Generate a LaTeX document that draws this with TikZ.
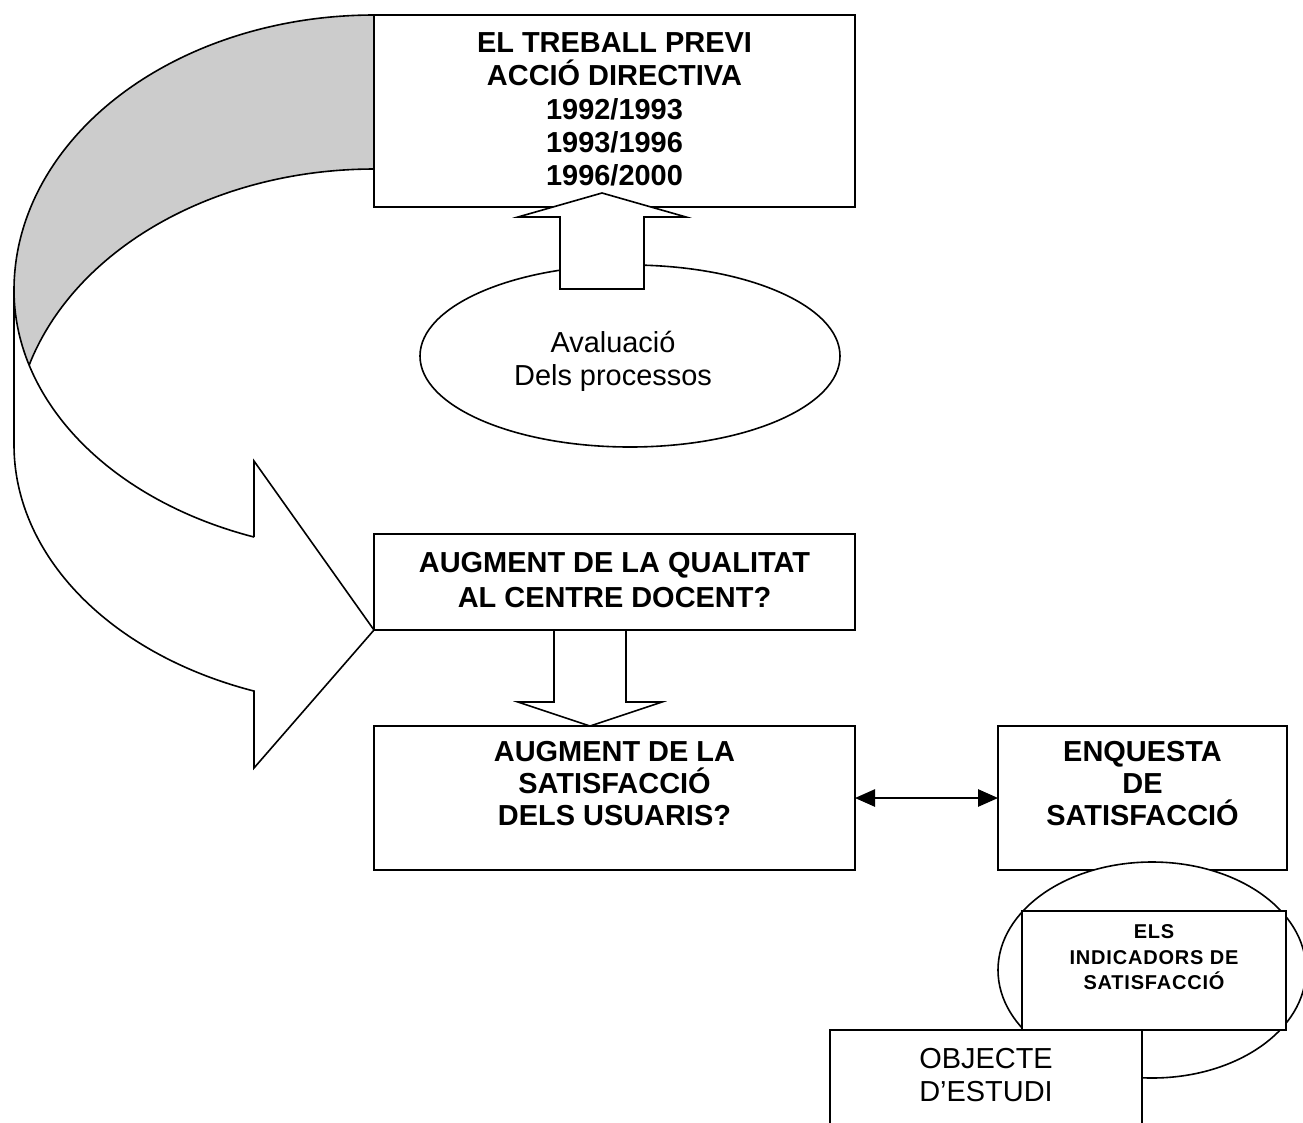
\documentclass[tikz,border=0pt]{standalone}
\usepackage{fontspec}
\setmainfont{Liberation Sans}
\usetikzlibrary{arrows.meta,shapes.geometric}
\begin{document}
\begin{tikzpicture}[x=0.75pt,y=-0.75pt,line width=1.2pt,
  box/.style={draw,fill=white,rectangle,inner sep=0pt,outer sep=0pt},
  oval/.style={draw,fill=white,ellipse,inner sep=0pt,outer sep=0pt},
  btxt/.style={align=center,inner sep=0pt,font=\fontsize{21.7}{#1}\selectfont\bfseries},
  rtxt/.style={align=center,inner sep=0pt,font=\fontsize{21.7}{#1}\selectfont},
  stxt/.style={align=center,inner sep=0pt,font=\fontsize{15}{19.1}\selectfont\bfseries\addfontfeature{LetterSpace=4}},
  blockarrow/.style={draw,fill=white,line join=miter},
  tip/.style={-{Triangle[length=15pt,width=13pt]}},
]
\useasboundingbox (0,0) rectangle (1303,1122);
\clip (0,0) rectangle (1303,1122);

% curved arrow: shaded back band
\fill[black!20]
  plot[domain=90:180,samples=100,variable=\t] ({374+360*cos(\t)},{290-275*sin(\t)})
  -- plot[domain=180:163.33,samples=20,variable=\t] ({374+360*cos(\t)},{290+262*sin(\t)})
  -- plot[domain=163.33:90,samples=100,variable=\t] ({374+360*cos(\t)},{444-275*sin(\t)})
  -- cycle;
% curved arrow outline
\draw[line join=miter]
  plot[domain=90:180,samples=100,variable=\t] ({374+360*cos(\t)},{290-275*sin(\t)})
  -- (14,445)
  -- plot[domain=180:109.47,samples=100,variable=\t] ({374+360*cos(\t)},{445+261*sin(\t)})
  -- (254,768) -- (374,630) -- (254,461) -- (254,537)
  -- plot[domain=109.47:180,samples=100,variable=\t] ({374+360*cos(\t)},{290+262*sin(\t)});
\draw plot[domain=90:163.33,samples=100,variable=\t] ({374+360*cos(\t)},{444-275*sin(\t)});

% boxes
\node[box,minimum width=360.75pt,minimum height=144pt] (top) at (614.5,111) {};
\node[box,minimum width=360.75pt,minimum height=72pt] (q) at (614.5,582) {};
\node[box,minimum width=360.75pt,minimum height=108pt] (s) at (614.5,798) {};
\node[box,minimum width=216.75pt,minimum height=108pt] (e) at (1142.5,798) {};

% evaluation ellipse and up arrow
\node[oval,minimum width=315pt,minimum height=136.5pt] (ev) at (630,356) {};
\draw[blockarrow] (560,289) -- (560,217) -- (518,217) -- (602,193) -- (686,217) -- (644,217) -- (644,289) -- cycle;

% down arrow
\draw[blockarrow] (554,630) -- (626,630) -- (626,702) -- (662,702) -- (590,726) -- (518,702) -- (554,702) -- cycle;

% double arrow
\draw[{Triangle[length=15pt,width=13pt]}-{Triangle[length=15pt,width=13pt]}] (s.east) -- (e.west);

% indicators
\node[oval,minimum width=231pt,minimum height=162pt] (ind) at (1152,970) {};
\node[box,minimum width=198pt,minimum height=89.25pt] (els) at (1154,970.5) {};
\node[box,minimum width=234pt,minimum height=82.5pt] (obj) at (986,1085) {};

% texts
\node[btxt=25] (topT) at (614.5,109.6) {EL TREBALL PREVI\\ACCIÓ DIRECTIVA\\1992/1993\\1993/1996\\1996/2000};
\node[btxt=26.25] (qT) at (614.5,580.2) {AUGMENT DE LA QUALITAT\\AL CENTRE DOCENT?};
\node[btxt=24] (sT) at (614.5,783.7) {AUGMENT DE LA\\SATISFACCIÓ\\DELS USUARIS?};
\node[btxt=24] (eT) at (1142.5,783.7) {ENQUESTA\\DE\\SATISFACCIÓ};
\node[rtxt=24.75] (evT) at (613,361) {Avaluació\\Dels processos};
\node[stxt] (indT) at (1154,957.4) {ELS\\INDICADORS DE\\SATISFACCIÓ};
\node[rtxt=24.75] (objT) at (986,1075) {OBJECTE\\D’ESTUDI};
\end{tikzpicture}
\end{document}
